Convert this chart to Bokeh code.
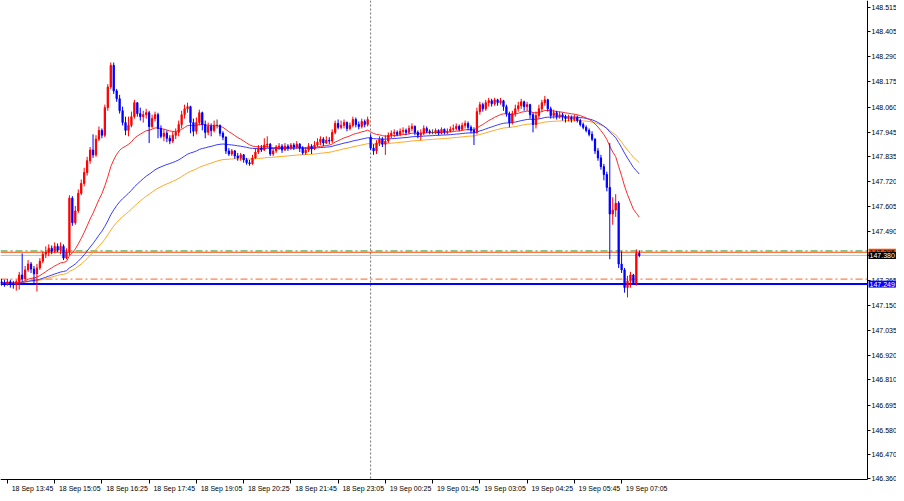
from bokeh.plotting import figure
from bokeh.models import (ColumnDataSource, FixedTicker, PrintfTickFormatter,
                          CustomJSTickFormatter, Span, Label, LinearAxis, BoxAnnotation)
from bokeh.embed import file_html
from bokeh.resources import INLINE

# ---------------- data (M5 candles) ----------------
first_open = 147.260
gap_opens = {125: 147.922}   # opening gap after the day separator

close = [
147.255, 147.251, 147.260, 147.251, 147.246, 147.260, 147.291, 147.273, 147.314, 147.341,
147.318, 147.296, 147.323, 147.354, 147.386, 147.395, 147.413, 147.399, 147.422, 147.404,
147.422, 147.368, 147.395, 147.643, 147.530, 147.584, 147.665, 147.710, 147.760, 147.814,
147.863, 147.841, 147.913, 147.953, 147.931, 148.057, 148.152, 148.251, 148.134, 148.098,
148.043, 147.989, 147.953, 147.976, 148.016, 148.080, 148.030, 148.016, 148.025, 148.034,
147.971, 148.007, 148.025, 147.962, 147.926, 147.940, 147.917, 147.904, 147.931, 147.944,
147.980, 148.025, 148.052, 148.062, 147.989, 147.949, 147.989, 148.034, 147.980, 147.944,
147.971, 147.953, 147.976, 147.976, 147.940, 147.922, 147.859, 147.845, 147.859, 147.836,
147.827, 147.841, 147.818, 147.805, 147.800, 147.827, 147.854, 147.872, 147.863, 147.886,
147.890, 147.845, 147.859, 147.877, 147.881, 147.863, 147.881, 147.872, 147.886, 147.877,
147.890, 147.872, 147.850, 147.863, 147.881, 147.868, 147.886, 147.899, 147.913, 147.895,
147.908, 147.904, 147.944, 147.985, 147.967, 147.976, 147.989, 147.962, 147.976, 148.003,
147.980, 147.971, 147.994, 147.980, 148.003, 147.872, 147.859, 147.895, 147.913, 147.890,
147.904, 147.931, 147.940, 147.944, 147.935, 147.949, 147.953, 147.944, 147.962, 147.971,
147.944, 147.931, 147.940, 147.962, 147.949, 147.944, 147.944, 147.953, 147.940, 147.958,
147.944, 147.949, 147.958, 147.962, 147.971, 147.958, 147.976, 147.985, 147.967, 147.953,
147.944, 148.039, 148.071, 148.052, 148.080, 148.089, 148.075, 148.093, 148.080, 148.089,
148.062, 148.030, 147.989, 148.030, 148.052, 148.066, 148.084, 148.062, 148.071, 148.025,
147.980, 148.021, 148.052, 148.080, 148.093, 148.052, 148.021, 148.034, 148.016, 148.025,
148.016, 148.007, 148.012, 148.003, 148.012, 147.998, 147.980, 147.967, 147.953, 147.935,
147.913, 147.859, 147.827, 147.787, 147.751, 147.692, 147.570, 147.588, 147.620, 147.341,
147.314, 147.233, 147.264, 147.291, 147.255, 147.390, 147.380,
]

high = [
147.273, 147.269, 147.273, 147.269, 147.264, 147.269, 147.305, 147.390, 147.332, 147.359,
147.350, 147.332, 147.341, 147.368, 147.399, 147.422, 147.431, 147.426, 147.440, 147.435,
147.440, 147.431, 147.413, 147.656, 147.652, 147.607, 147.683, 147.728, 147.782, 147.832,
147.877, 147.935, 147.931, 147.971, 147.962, 148.071, 148.165, 148.264, 148.264, 148.143,
148.116, 148.062, 148.016, 148.016, 148.039, 148.093, 148.080, 148.057, 148.043, 148.052,
148.043, 148.025, 148.039, 148.034, 147.976, 147.958, 147.953, 147.931, 147.949, 147.962,
147.998, 148.043, 148.071, 148.080, 148.066, 148.007, 148.012, 148.048, 148.039, 147.998,
147.989, 147.985, 147.998, 148.003, 147.980, 147.949, 147.926, 147.872, 147.868, 147.863,
147.850, 147.850, 147.845, 147.827, 147.818, 147.841, 147.872, 147.886, 147.886, 147.917,
147.926, 147.895, 147.872, 147.886, 147.895, 147.890, 147.895, 147.890, 147.895, 147.895,
147.904, 147.895, 147.881, 147.877, 147.895, 147.890, 147.904, 147.917, 147.926, 147.922,
147.926, 147.922, 147.958, 147.998, 148.003, 147.998, 148.003, 147.994, 147.989, 148.016,
148.012, 147.994, 148.007, 148.003, 148.016, 147.935, 147.890, 147.908, 147.926, 147.922,
147.931, 147.944, 147.953, 147.958, 147.953, 147.962, 147.967, 147.962, 147.976, 147.985,
147.976, 147.953, 147.958, 147.976, 147.971, 147.958, 147.958, 147.962, 147.958, 147.967,
147.962, 147.962, 147.971, 147.980, 147.985, 147.980, 147.989, 147.998, 147.994, 147.976,
147.967, 148.057, 148.084, 148.080, 148.093, 148.102, 148.098, 148.102, 148.098, 148.102,
148.093, 148.071, 148.039, 148.043, 148.071, 148.084, 148.098, 148.089, 148.084, 148.075,
148.034, 148.039, 148.071, 148.093, 148.111, 148.098, 148.062, 148.048, 148.043, 148.039,
148.034, 148.025, 148.025, 148.021, 148.025, 148.021, 148.007, 147.989, 147.976, 147.962,
147.949, 147.917, 147.872, 147.841, 147.800, 147.764, 147.895, 147.647, 147.661, 147.629,
147.399, 147.323, 147.287, 147.305, 147.296, 147.408, 147.404,
]

low = [
147.242, 147.237, 147.242, 147.233, 147.228, 147.219, 147.224, 147.260, 147.264, 147.305,
147.300, 147.251, 147.215, 147.314, 147.345, 147.368, 147.377, 147.386, 147.390, 147.395,
147.386, 147.359, 147.363, 147.381, 147.516, 147.521, 147.575, 147.656, 147.697, 147.746,
147.800, 147.827, 147.832, 147.904, 147.917, 147.922, 148.043, 148.143, 148.120, 148.084,
148.030, 147.976, 147.931, 147.926, 147.967, 148.007, 148.016, 147.998, 147.989, 148.007,
147.895, 147.962, 147.994, 147.917, 147.917, 147.904, 147.899, 147.890, 147.895, 147.913,
147.926, 147.962, 148.007, 148.034, 147.940, 147.926, 147.935, 147.976, 147.953, 147.917,
147.931, 147.926, 147.944, 147.962, 147.926, 147.908, 147.845, 147.836, 147.836, 147.823,
147.814, 147.814, 147.805, 147.796, 147.791, 147.796, 147.823, 147.845, 147.854, 147.859,
147.872, 147.836, 147.836, 147.850, 147.863, 147.850, 147.859, 147.859, 147.863, 147.863,
147.868, 147.854, 147.841, 147.841, 147.854, 147.845, 147.863, 147.877, 147.886, 147.881,
147.890, 147.890, 147.895, 147.935, 147.958, 147.958, 147.962, 147.949, 147.953, 147.967,
147.967, 147.958, 147.962, 147.967, 147.971, 147.863, 147.841, 147.845, 147.881, 147.877,
147.841, 147.895, 147.917, 147.922, 147.926, 147.926, 147.935, 147.931, 147.935, 147.949,
147.931, 147.917, 147.908, 147.931, 147.940, 147.935, 147.935, 147.935, 147.931, 147.935,
147.935, 147.935, 147.944, 147.949, 147.953, 147.949, 147.953, 147.962, 147.953, 147.940,
147.886, 147.935, 148.025, 148.039, 148.043, 148.062, 148.062, 148.066, 148.066, 148.071,
148.043, 148.016, 147.967, 147.980, 148.016, 148.039, 148.052, 148.043, 148.043, 148.007,
147.944, 147.962, 148.007, 148.039, 148.066, 148.039, 148.007, 148.007, 148.003, 148.007,
147.998, 147.989, 147.994, 147.989, 147.994, 147.989, 147.971, 147.958, 147.944, 147.926,
147.904, 147.845, 147.814, 147.773, 147.724, 147.674, 147.363, 147.521, 147.557, 147.323,
147.300, 147.210, 147.188, 147.233, 147.246, 147.242, 147.372,
]

time_labels = ["18 Sep 13:45", "18 Sep 15:05", "18 Sep 16:25", "18 Sep 17:45",
               "18 Sep 19:05", "18 Sep 20:25", "18 Sep 21:45", "18 Sep 23:05",
               "19 Sep 00:25", "19 Sep 01:45", "19 Sep 03:05", "19 Sep 04:25",
               "19 Sep 05:45", "19 Sep 07:05"]
time_label_bars = [2, 18, 34, 50, 66, 82, 98, 114, 130, 146, 162, 178, 194, 210]

price_ticks = [148.515, 148.405, 148.290, 148.175, 148.060, 147.945, 147.835,
               147.720, 147.605, 147.490, 147.380, 147.265, 147.150, 147.035,
               146.920, 146.810, 146.695, 146.580, 146.470, 146.360]

day_separator_bar = 125
bid_price = 147.380
level_green = 147.401
level_orangered = 147.395
level_salmon = 147.272
level_blue = 147.249

ma_fast, ma_mid, ma_slow = 21, 50, 70

# ---------------- build ----------------
n = min(len(close), len(high), len(low))
close, high, low = close[:n], high[:n], low[:n]
xs = list(range(n))
opens = [first_open] + close[:-1]
for k, v in gap_opens.items():
    if k < n:
        opens[k] = v

colors = []
for o, c in zip(opens, close):
    if c > o:
        colors.append("#ff0000")
    elif c < o:
        colors.append("#0000ff")
    else:
        colors.append("#404040")

src = ColumnDataSource(dict(
    x=xs, top=[max(o, c) for o, c in zip(opens, close)],
    bottom=[min(o, c) for o, c in zip(opens, close)],
    high=high, low=low, color=colors))


def ema(vals, period):
    a = 2.0 / (period + 1)
    out = [vals[0]]
    for v in vals[1:]:
        out.append(out[-1] + a * (v - out[-1]))
    return out


X_START = -0.34
X_AXIS = 293.3          # where the price scale sits
X_END = 303.1           # room for the price labels
Y_TOP = 148.548
Y_AXIS = 146.354        # where the time scale sits
Y_BOTTOM = 146.290      # room for the time labels
FONT = "Liberation Sans"

p = figure(width=896, height=493, x_range=(X_START, X_END), y_range=(Y_BOTTOM, Y_TOP),
           output_backend="svg", toolbar_location=None,
           x_axis_location=None, y_axis_location=None,
           min_border_left=0, min_border_top=0, min_border_right=0, min_border_bottom=0)
p.outline_line_color = None
p.grid.visible = False
p.background_fill_color = "white"
p.border_fill_color = "white"

# day separator
p.add_layout(Span(location=day_separator_bar, dimension="height", line_color="#707070",
                  line_width=1, line_dash="2 2", level="underlay"))

# horizontal levels
p.add_layout(Span(location=level_green, dimension="width", line_color="#2f9a2f",
                  line_width=1, line_dash="7 3 2 3", level="underlay"))
p.add_layout(Span(location=level_orangered, dimension="width", line_color="#ff4500",
                  line_width=1, level="underlay"))
p.add_layout(Span(location=bid_price, dimension="width", line_color="#c4c4c4",
                  line_width=1, level="underlay"))
p.add_layout(Span(location=level_salmon, dimension="width", line_color="#ff8050",
                  line_width=1.2, line_dash="7 3 2 3", level="underlay"))
p.add_layout(Span(location=level_blue, dimension="width", line_color="#0000ff",
                  line_width=2, level="underlay"))
# scale areas stay blank behind their labels
p.add_layout(BoxAnnotation(left=X_AXIS, fill_color="white", fill_alpha=1.0,
                           line_color=None, level="underlay"))
p.add_layout(BoxAnnotation(top=Y_AXIS, fill_color="white", fill_alpha=1.0,
                           line_color=None, level="underlay"))

# moving averages
p.line(xs, ema(close, ma_slow), line_color="#ffa826", line_width=1)
p.line(xs, ema(close, ma_mid), line_color="#3a3aff", line_width=1)
p.line(xs, ema(close, ma_fast), line_color="#ff2a2a", line_width=1)

# candles
p.segment(x0="x", y0="low", x1="x", y1="high", line_color="color", line_width=1, source=src)
p.vbar(x="x", width=0.42, top="top", bottom="bottom", fill_color="color",
       line_color="color", line_width=1, source=src)

# time axis
xa = LinearAxis(fixed_location=Y_AXIS, bounds=(X_START, X_AXIS),
                ticker=FixedTicker(ticks=[t + 8.5 for t in time_label_bars],
                                   minor_ticks=time_label_bars),
                formatter=CustomJSTickFormatter(args=dict(labels=time_labels),
                                                code="return labels[index] ?? '';"))
xa.major_tick_line_color = None
xa.major_tick_out = 4
xa.major_tick_in = 0
xa.minor_tick_line_color = "black"
xa.minor_tick_out = 4
xa.minor_tick_in = 0
xa.major_label_standoff = 1
xa.major_label_text_font = FONT
xa.major_label_text_font_size = "7px"
xa.major_label_text_color = "black"
xa.axis_line_color = "black"
p.add_layout(xa, "below")

# price axis
ya = LinearAxis(fixed_location=X_AXIS, bounds=(Y_AXIS, Y_TOP),
                ticker=FixedTicker(ticks=price_ticks),
                formatter=PrintfTickFormatter(format="%.3f"))
ya.major_tick_out = 3
ya.major_tick_in = 0
ya.minor_tick_line_color = None
ya.major_label_standoff = 1
ya.major_label_text_font = FONT
ya.major_label_text_font_size = "7px"
ya.major_label_text_color = "black"
ya.axis_line_color = "black"
p.add_layout(ya, "right")

# price tags on the scale
def tag(price, txt, bg, fg):
    p.add_layout(Label(x=X_AXIS, y=price, text=txt, x_offset=1, text_align="left",
                       text_baseline="middle", text_font=FONT, text_font_size="7px",
                       text_color=fg, background_fill_color=bg, padding=1))

tag(level_orangered, "147.395", "#ff4500", "black")
tag(bid_price, "147.380", "black", "white")
tag(level_blue, "147.249", "#0000ff", "white")

open("out.html", "w").write(file_html(p, INLINE))
